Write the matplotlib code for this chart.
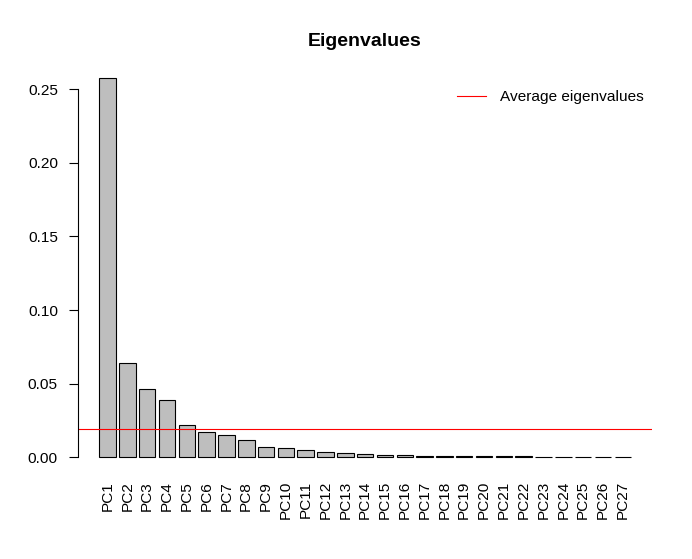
import matplotlib
matplotlib.use("Agg")
import matplotlib.pyplot as plt

categories = ["PC%d" % i for i in range(1, 28)]
eigenvalues = [0.2575, 0.0639, 0.0462, 0.0387, 0.0217, 0.0170, 0.0149, 0.0115,
               0.0068, 0.0061, 0.0048, 0.0034, 0.0027, 0.0020, 0.0016, 0.0015,
               0.0010, 0.0010, 0.0009, 0.0009, 0.0009, 0.0009, 0.0001, 0.0001,
               0.0001, 0.0001, 0.0001]
average_eigenvalue = 0.0190
yticks = [0.00, 0.05, 0.10, 0.15, 0.20, 0.25]
ytick_labels = ["0.00", "0.05", "0.10", "0.15", "0.20", "0.25"]

plt.rcParams['font.family'] = ['Liberation Sans', 'DejaVu Sans']

W, H = 692, 559
fig = plt.figure(figsize=(W / 100, H / 100), dpi=100)
ax = fig.add_axes([78 / W, 1 - 472.5 / H, (652.3 - 78) / W, (472.5 - 62.8) / H])

n = len(eigenvalues)
xpos = [0.7 + 1.2 * i for i in range(n)]
ax.bar(xpos, eigenvalues, width=1.0, color="#BEBEBE", edgecolor="black", linewidth=0.8)
ax.axhline(average_eigenvalue, color="red", linewidth=0.8, label="Average eigenvalues")

xl, xr = 0.2, 1.2 * n
ext = 0.04 * (xr - xl)
ax.set_xlim(xl - ext, xr + ext)
ymax = max(eigenvalues)
ax.set_ylim(-0.04 * ymax, ymax * 1.04)

for s in ["top", "right", "bottom"]:
    ax.spines[s].set_visible(False)
ax.spines["left"].set_bounds(0, 0.25)
ax.spines["left"].set_linewidth(0.8)

ax.set_yticks(yticks)
ax.set_yticklabels(ytick_labels)
ax.tick_params(axis="y", length=6.5, width=0.8, pad=7.9, labelsize=11.1)
ax.set_xticks(xpos)
ax.set_xticklabels(categories, rotation=90)
ax.tick_params(axis="x", length=0, pad=6.1, labelsize=11.1)

fig.text(365 / W, 1 - 46 / H, "Eigenvalues", ha="center", va="baseline",
         fontsize=14, fontweight="bold")

ax.legend(loc="center right", bbox_to_anchor=(644 / W, 1 - 97 / H),
          bbox_transform=fig.transFigure, frameon=False, fontsize=11.1,
          handlelength=1.9, handletextpad=0.9, borderpad=0, borderaxespad=0)

fig.savefig("out.png", dpi=100)
